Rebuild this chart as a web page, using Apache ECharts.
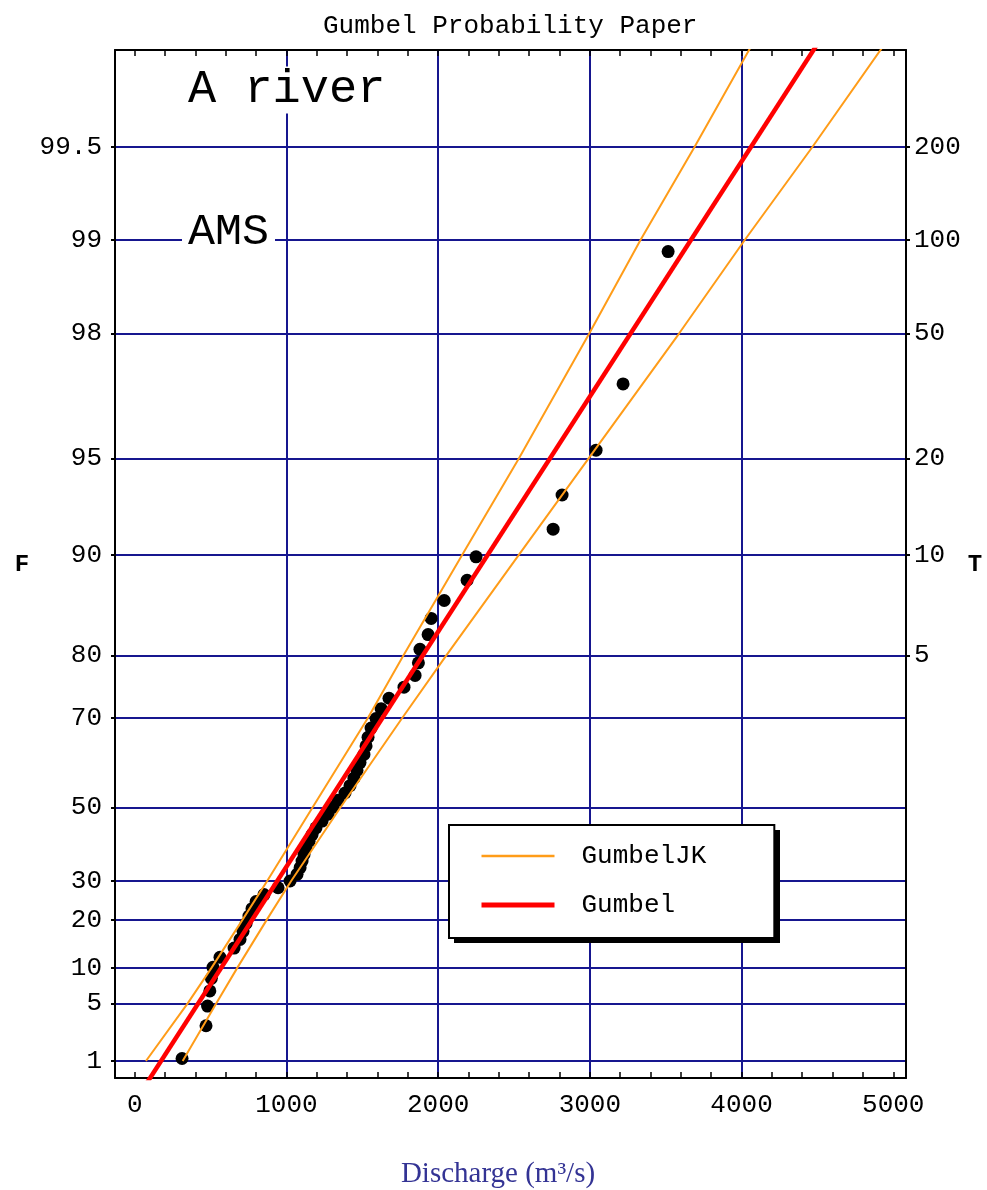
<!DOCTYPE html>
<html>
<head>
<meta charset="utf-8">
<script src="https://cdn.jsdelivr.net/npm/echarts@6/dist/echarts.min.js"></script>
<style>
html,body{margin:0;padding:0;background:#fff;}
#chart{width:987px;height:1190px;}
</style>
</head>
<body>
<div id="chart"></div>
<script>
// ---- Axis ticks / labels ----
const F_TICKS = [1, 5, 10, 20, 30, 50, 70, 80, 90, 95, 98, 99, 99.5];
const F_TICK_LABELS = ['1', '5', '10', '20', '30', '50', '70', '80', '90', '95', '98', '99', '99.5'];
const T_TICKS = [5, 10, 20, 50, 100, 200];
const T_TICK_LABELS = ['5', '10', '20', '50', '100', '200'];
const X_LABEL_VALUES = [0, 1000, 2000, 3000, 4000, 5000];
const X_MINOR_TICKS = [0, 200, 400, 600, 800, 1000, 1200, 1400, 1600, 1800, 2000, 2200, 2400, 2600, 2800,
  3000, 3200, 3400, 3600, 3800, 4000, 4200, 4400, 4600, 4800, 5000];
const X_GRID_LINES = [1000, 2000, 3000, 4000];

// ---- Annual maximum series (discharge m3/s, plotting position F %) ----
const AMS_Q = [312, 470, 480, 495, 505, 516, 562, 655, 694, 714, 734, 753, 773, 800, 852,
  945, 1024, 1070, 1090, 1103, 1116, 1129, 1149, 1169, 1195, 1235, 1274, 1307, 1340, 1386,
  1419, 1445, 1465, 1485, 1511, 1525, 1538, 1558, 1591, 1624, 1676, 1775, 1848, 1870, 1880,
  1934, 1954, 2040, 2191, 2250, 2758, 2817, 3041, 3219, 3516];
const AMS_F = [1.09, 2.90, 4.71, 6.52, 8.33, 10.14, 11.96, 13.77, 15.58, 17.39, 19.20, 21.01, 22.83, 24.64, 26.45,
  28.26, 30.07, 31.88, 33.70, 35.51, 37.32, 39.13, 40.94, 42.75, 44.57, 46.38, 48.19, 50.00, 51.81, 53.62,
  55.43, 57.25, 59.06, 60.87, 62.68, 64.49, 66.30, 68.12, 69.93, 71.74, 73.55, 75.36, 77.17, 78.99, 80.80,
  82.61, 84.42, 86.23, 88.04, 89.86, 91.67, 93.48, 95.29, 97.10, 98.91];

// ---- Fitted Gumbel line (end points) ----
const GUMBEL_Q = [70, 4586];
const GUMBEL_F = [0.4, 99.8];

// ---- GumbelJK confidence band ----
const JK_F = [1, 5, 10, 20, 30, 50, 70, 80, 90, 95, 98, 99, 99.5, 99.76];
const JK_UPPER_Q = [74, 349, 505, 709, 872, 1173, 1536, 1771, 2159, 2532, 2996, 3334, 3691, 4056];
const JK_LOWER_Q = [316, 537, 675, 869, 1030, 1357, 1762, 2054, 2532, 2992, 3588, 4021, 4468, 4924];

// Gumbel reduced variate (probability paper transform)
function gv(fPct) { return -Math.log(-Math.log(fPct / 100)); }

const FY = F_TICKS.map(gv);
const TY = T_TICKS.map(t => gv(100 * (1 - 1 / t)));

function labelFor(values, labels) {
  return function (v) {
    for (let i = 0; i < values.length; i++) {
      if (Math.abs(values[i] - v) < 1e-6) return labels[i];
    }
    return '';
  };
}

const MONO = '"Liberation Mono", "DejaVu Sans Mono", monospace';
const GRID_BLUE = '#16168f';
const ORANGE = '#ff9c18';
const RED = '#ff0000';

const chart = echarts.init(document.getElementById('chart'), null, { renderer: 'canvas' });

const option = {
  backgroundColor: '#ffffff',
  animation: false,
  title: {
    text: 'Gumbel Probability Paper',
    left: 318,
    top: 8,
    textStyle: { fontFamily: MONO, fontSize: 26, fontWeight: 'normal', color: '#000' }
  },
  legend: {
    data: [
      { name: 'GumbelJK', lineStyle: { color: ORANGE, width: 2.5 } },
      { name: 'Gumbel', lineStyle: { color: RED, width: 5 } }
    ],
    orient: 'vertical',
    left: 449,
    top: 825,
    z: 10,
    padding: [18, 68, 20, 30],
    itemWidth: 73,
    itemHeight: 20,
    itemGap: 23,
    selectedMode: false,
    backgroundColor: '#ffffff',
    borderColor: '#000000',
    borderWidth: 2,
    borderRadius: 0,
    itemStyle: { opacity: 0 },
    textStyle: { fontFamily: MONO, fontSize: 26, color: '#000', padding: [0, 0, 0, 22] }
  },
  grid: {
    left: 115, right: 81, top: 50, bottom: 112,
    containLabel: false,
    outerBoundsMode: 'none'
  },
  xAxis: [
    {
      type: 'value', position: 'bottom', min: -130, max: 5084,
      axisLine: { show: true, onZero: false, lineStyle: { color: '#000', width: 2 } },
      axisTick: { show: true, inside: true, length: 6, customValues: X_MINOR_TICKS, lineStyle: { color: '#000', width: 1.5 } },
      axisLabel: {
        show: true, customValues: X_LABEL_VALUES, margin: 14, hideOverlap: false,
        fontFamily: MONO, fontSize: 26, color: '#000',
        formatter: v => String(Math.round(v))
      },
      splitLine: { show: false }
    },
    {
      type: 'value', position: 'top', min: -130, max: 5084,
      axisLine: { show: true, onZero: false, lineStyle: { color: '#000', width: 2 } },
      axisTick: { show: true, inside: true, length: 6, customValues: X_MINOR_TICKS, lineStyle: { color: '#000', width: 1.5 } },
      axisLabel: { show: false },
      splitLine: { show: false }
    },
    {
      type: 'value', position: 'bottom', min: -130, max: 5084,
      axisLine: { show: false },
      axisTick: { show: false, customValues: X_GRID_LINES },
      axisLabel: { show: false },
      splitLine: { show: true, lineStyle: { color: GRID_BLUE, width: 2 } }
    }
  ],
  yAxis: [
    {
      type: 'value', position: 'left', min: -1.654, max: 6.018,
      axisLine: { show: true, onZero: false, lineStyle: { color: '#000', width: 2 } },
      axisTick: { show: true, inside: false, length: 4, customValues: FY, lineStyle: { color: '#000', width: 2 } },
      axisLabel: {
        show: true, customValues: FY, margin: 13, hideOverlap: false,
        fontFamily: MONO, fontSize: 26, color: '#000',
        formatter: labelFor(FY, F_TICK_LABELS)
      },
      splitLine: { show: true, lineStyle: { color: GRID_BLUE, width: 2 } }
    },
    {
      type: 'value', position: 'right', min: -1.654, max: 6.018,
      axisLine: { show: true, onZero: false, lineStyle: { color: '#000', width: 2 } },
      axisTick: { show: true, inside: false, length: 4, customValues: TY, lineStyle: { color: '#000', width: 2 } },
      axisLabel: {
        show: true, customValues: TY, margin: 8, hideOverlap: false,
        fontFamily: MONO, fontSize: 26, color: '#000',
        formatter: labelFor(TY, T_TICK_LABELS)
      },
      splitLine: { show: false }
    }
  ],
  graphic: [
    {
      // legend drop shadow
      type: 'rect', z: 9,
      shape: { x: 454, y: 830, width: 326, height: 113 },
      style: { fill: '#000' }
    },
    {
      type: 'text', x: 182, y: 90, z: 50,
      style: {
        text: 'A river', fontFamily: 'Liberation Mono', fontSize: 47, fill: '#000',
        align: 'left', verticalAlign: 'middle', textAlign: 'left', textVerticalAlign: 'middle',
        backgroundColor: '#fff', padding: [0, 6]
      }
    },
    {
      type: 'text', x: 182, y: 232, z: 50,
      style: {
        text: 'AMS', fontFamily: 'Liberation Mono', fontSize: 45, fill: '#000',
        align: 'left', verticalAlign: 'middle', textAlign: 'left', textVerticalAlign: 'middle',
        backgroundColor: '#fff', padding: [0, 6]
      }
    },
    {
      type: 'text', x: 22, y: 565, z: 50,
      style: {
        text: 'F', fontFamily: 'Liberation Mono', fontSize: 24, fontWeight: 'bold', fill: '#000',
        align: 'center', verticalAlign: 'middle', textAlign: 'center', textVerticalAlign: 'middle'
      }
    },
    {
      type: 'text', x: 975, y: 565, z: 50,
      style: {
        text: 'T', fontFamily: 'Liberation Mono', fontSize: 24, fontWeight: 'bold', fill: '#000',
        align: 'center', verticalAlign: 'middle', textAlign: 'center', textVerticalAlign: 'middle'
      }
    },
    {
      type: 'text', x: 498, y: 1174, z: 50,
      style: {
        text: 'Discharge (m\u00B3/s)', fontFamily: 'Liberation Serif', fontSize: 29, fill: '#333394',
        align: 'center', verticalAlign: 'middle', textAlign: 'center', textVerticalAlign: 'middle'
      }
    }
  ],
  series: [
    {
      name: 'AMS',
      type: 'scatter',
      xAxisIndex: 0, yAxisIndex: 0,
      symbol: 'circle',
      symbolSize: 13,
      itemStyle: { color: '#000', opacity: 1 },
      z: 2,
      data: AMS_Q.map((q, i) => [q, gv(AMS_F[i])])
    },
    {
      name: 'Gumbel',
      type: 'line',
      xAxisIndex: 0, yAxisIndex: 0,
      symbol: 'none',
      clip: true,
      lineStyle: { color: RED, width: 4.5 },
      itemStyle: { color: RED },
      z: 3,
      data: GUMBEL_Q.map((q, i) => [q, gv(GUMBEL_F[i])])
    },
    {
      name: 'GumbelJK',
      type: 'line',
      xAxisIndex: 0, yAxisIndex: 0,
      symbol: 'none',
      clip: true,
      lineStyle: { color: ORANGE, width: 2 },
      itemStyle: { color: ORANGE },
      z: 4,
      data: JK_UPPER_Q.map((q, i) => [q, gv(JK_F[i])])
    },
    {
      name: 'GumbelJK',
      type: 'line',
      xAxisIndex: 0, yAxisIndex: 0,
      symbol: 'none',
      clip: true,
      lineStyle: { color: ORANGE, width: 2 },
      itemStyle: { color: ORANGE },
      z: 4,
      data: JK_LOWER_Q.map((q, i) => [q, gv(JK_F[i])])
    }
  ]
};

chart.setOption(option);
</script>
</body>
</html>
